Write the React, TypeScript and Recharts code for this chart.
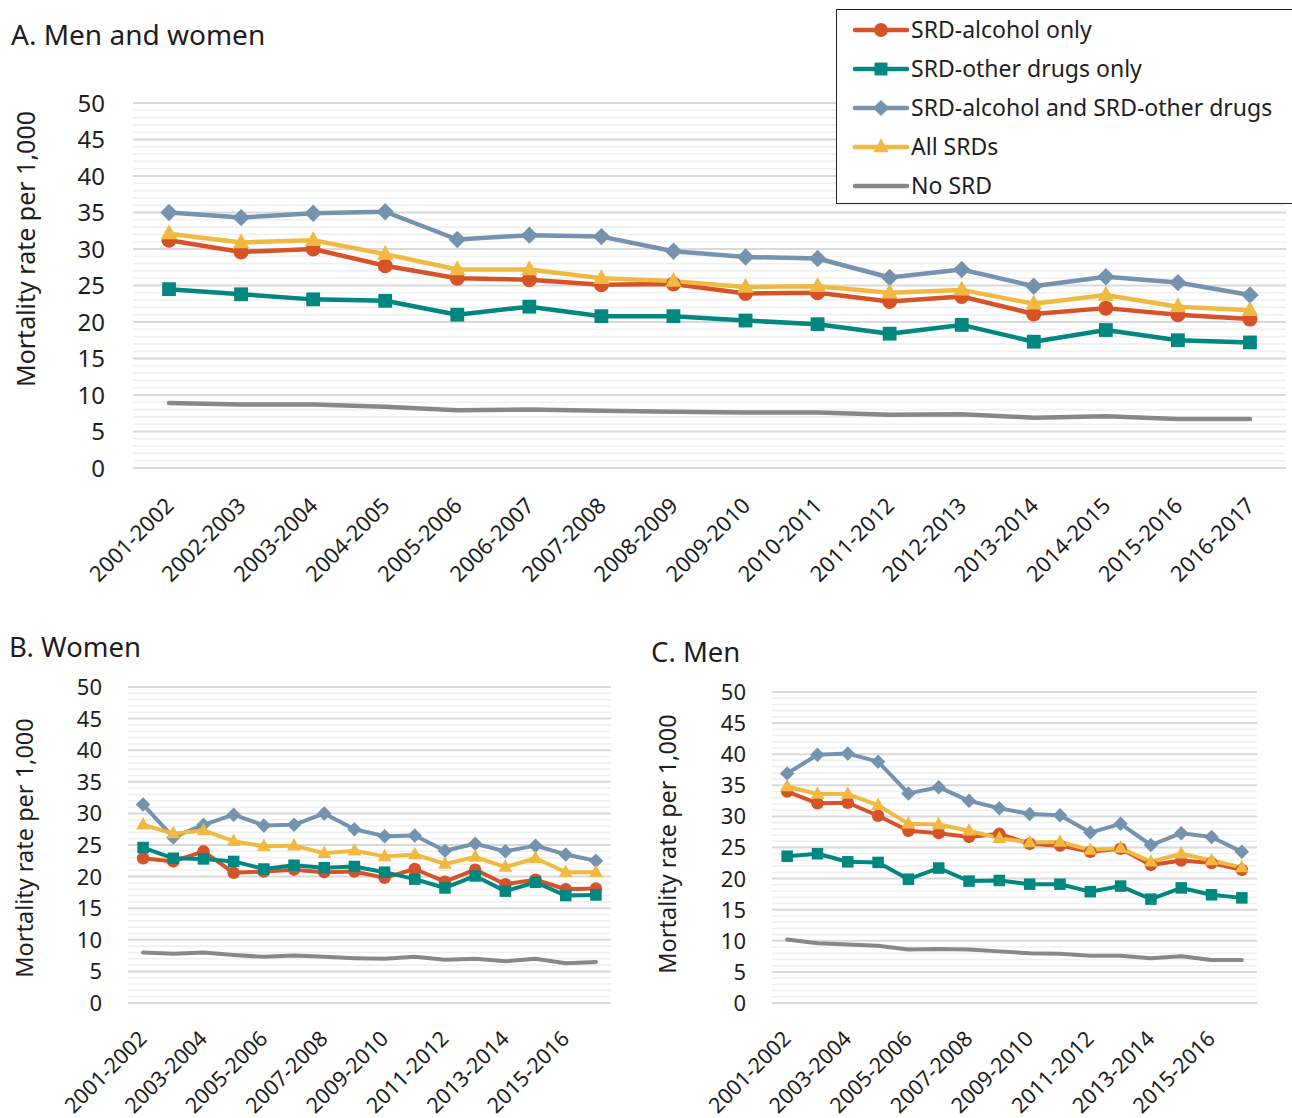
import React from 'react';
import { LineChart, Line, XAxis, YAxis, CartesianGrid, Legend } from 'recharts';

const periods = [
  '2001-2002', '2002-2003', '2003-2004', '2004-2005', '2005-2006', '2006-2007', '2007-2008', '2008-2009',
  '2009-2010', '2010-2011', '2011-2012', '2012-2013', '2013-2014', '2014-2015', '2015-2016', '2016-2017',
];

// every integer gets a grid line, every 5th gets a label
const gridTicks = Array.from({ length: 51 }, (_, i) => i);

// A. Men and women
const allAlcohol = [31.2, 29.6, 30.0, 27.7, 26.0, 25.8, 25.1, 25.2, 23.9, 24.0, 22.8, 23.5, 21.1, 21.9, 21.0, 20.4];
const allOtherDrugs = [24.5, 23.8, 23.1, 22.9, 21.0, 22.1, 20.8, 20.8, 20.2, 19.7, 18.4, 19.6, 17.3, 18.9, 17.5, 17.2];
const allBoth = [35.0, 34.3, 34.9, 35.1, 31.3, 31.9, 31.7, 29.7, 28.9, 28.7, 26.1, 27.2, 24.9, 26.2, 25.4, 23.7];
const allSrds = [32.1, 30.9, 31.2, 29.3, 27.2, 27.2, 26.0, 25.6, 24.8, 24.9, 24.0, 24.4, 22.5, 23.7, 22.1, 21.6];
const allNoSrd = [8.9, 8.7, 8.7, 8.4, 7.9, 8.0, 7.85, 7.7, 7.6, 7.6, 7.3, 7.35, 6.9, 7.1, 6.7, 6.7];

// B. Women
const womenAlcohol = [22.9, 22.4, 24.0, 20.6, 20.8, 21.1, 20.7, 20.8, 19.8, 21.2, 19.2, 21.1, 18.8, 19.5, 18.0, 18.1];
const womenOtherDrugs = [24.6, 22.9, 22.8, 22.4, 21.2, 21.8, 21.4, 21.6, 20.7, 19.6, 18.2, 20.1, 17.7, 19.1, 17.0, 17.1];
const womenBoth = [31.4, 26.2, 28.2, 29.8, 28.1, 28.2, 30.0, 27.5, 26.4, 26.5, 24.1, 25.2, 24.0, 24.9, 23.5, 22.5];
const womenSrds = [28.2, 26.8, 27.3, 25.6, 24.8, 24.9, 23.7, 24.1, 23.2, 23.5, 22.0, 23.1, 21.5, 22.9, 20.7, 20.7];
const womenNoSrd = [8.0, 7.8, 8.0, 7.6, 7.3, 7.5, 7.3, 7.1, 7.0, 7.3, 6.85, 7.0, 6.6, 7.0, 6.3, 6.5];

// C. Men
const menAlcohol = [34.0, 32.1, 32.2, 30.1, 27.7, 27.3, 26.7, 27.2, 25.6, 25.3, 24.3, 24.8, 22.2, 22.9, 22.5, 21.4];
const menOtherDrugs = [23.6, 24.0, 22.7, 22.6, 19.9, 21.7, 19.6, 19.7, 19.1, 19.1, 17.9, 18.8, 16.7, 18.5, 17.4, 16.9];
const menBoth = [36.9, 39.9, 40.1, 38.8, 33.7, 34.7, 32.5, 31.3, 30.4, 30.2, 27.4, 28.8, 25.4, 27.3, 26.7, 24.3];
const menSrds = [34.8, 33.6, 33.6, 31.8, 28.8, 28.7, 27.7, 26.5, 25.8, 25.9, 24.6, 24.9, 22.7, 24.0, 22.9, 21.8];
const menNoSrd = [10.2, 9.6, 9.4, 9.2, 8.6, 8.7, 8.6, 8.3, 8.0, 7.9, 7.6, 7.6, 7.2, 7.5, 6.9, 6.9];

const buildData = (alcohol: number[], other: number[], both: number[], srds: number[], none: number[]) =>
  periods.map((period, i) => ({
    period,
    alcohol: alcohol[i],
    other: other[i],
    both: both[i],
    srds: srds[i],
    none: none[i],
  }));

const dataAll = buildData(allAlcohol, allOtherDrugs, allBoth, allSrds, allNoSrd);
const dataWomen = buildData(womenAlcohol, womenOtherDrugs, womenBoth, womenSrds, womenNoSrd);
const dataMen = buildData(menAlcohol, menOtherDrugs, menBoth, menSrds, menNoSrd);

const FONT = "'Noto Sans', 'Open Sans', sans-serif";
const TEXT = '#1e1e1e';

const SERIES = [
  { key: 'alcohol', name: 'SRD-alcohol only', color: '#D6532A', marker: 'circle' },
  { key: 'other', name: 'SRD-other drugs only', color: '#00877F', marker: 'square' },
  { key: 'both', name: 'SRD-alcohol and SRD-other drugs', color: '#7493AF', marker: 'diamond' },
  { key: 'srds', name: 'All SRDs', color: '#F0B941', marker: 'triangle' },
  { key: 'none', name: 'No SRD', color: '#888888', marker: 'none' },
];

const Marker = ({ type, cx, cy, color, s }: { type: string; cx: number; cy: number; color: string; s: number }) => {
  if (type === 'circle') return <circle cx={cx} cy={cy} r={s * 0.5} fill={color} />;
  if (type === 'square') return <rect x={cx - s * 0.46} y={cy - s * 0.46} width={s * 0.92} height={s * 0.92} fill={color} />;
  if (type === 'diamond') {
    const h = s * 0.58;
    return <polygon points={`${cx},${cy - h} ${cx + h},${cy} ${cx},${cy + h} ${cx - h},${cy}`} fill={color} />;
  }
  if (type === 'triangle') {
    const w = s * 0.55;
    return <polygon points={`${cx},${cy - s * 0.62} ${cx + w},${cy + s * 0.38} ${cx - w},${cy + s * 0.38}`} fill={color} />;
  }
  return null;
};

const makeDot = (type: string, color: string, s: number, key: string) => (props: any) => {
  const { cx, cy, index } = props;
  if (cx == null || cy == null) return <g key={`${key}-${index}`} />;
  return (
    <g key={`${key}-${index}`}>
      <Marker type={type} cx={cx} cy={cy} color={color} s={s} />
    </g>
  );
};

const XTick = ({ x, y, payload, fontSize, dx, dy }: any) => (
  <g transform={`translate(${x + dx},${y + dy})`}>
    <text textAnchor="end" transform="rotate(-45)" fontSize={fontSize} fill={TEXT} fontFamily={FONT}>
      {payload.value}
    </text>
  </g>
);

const YTick = ({ x, y, payload, fontSize }: any) =>
  payload.value % 5 === 0 ? (
    <text x={x} y={y} dy="0.36em" textAnchor="end" fontSize={fontSize} fill={TEXT} fontFamily={FONT}>
      {payload.value}
    </text>
  ) : (
    <g />
  );

// minor lines light, every 5th line darker
const GridLine = (props: any) => {
  const major = props.index % 5 === 0;
  return (
    <line
      key={props.key}
      x1={props.x1}
      y1={props.y1}
      x2={props.x2}
      y2={props.y2}
      stroke={major ? '#d9d9d9' : '#f0f0f0'}
      strokeWidth={major ? 2 : 1.6}
    />
  );
};

const LegendBox = ({ payload }: any) => (
  <div
    style={{
      background: '#fff',
      border: '1.5px solid #222',
      borderRight: 'none',
      width: 456,
      height: 195,
      boxSizing: 'border-box',
      fontFamily: FONT,
    }}
  >
    {SERIES.map((s) => {
      const item = (payload || []).find((p: any) => p.dataKey === s.key);
      const color = item ? item.color : s.color;
      return (
        <div key={s.key} style={{ display: 'flex', alignItems: 'center', height: 39 }}>
          <svg width={58} height={20} style={{ marginLeft: 15, flex: 'none' }}>
            <line x1={3} y1={10} x2={55} y2={10} stroke={color} strokeWidth={4.5} strokeLinecap="round" />
            <Marker type={s.marker} cx={29} cy={10} color={color} s={14} />
          </svg>
          <span style={{ fontSize: 23, color: TEXT, whiteSpace: 'nowrap', marginLeft: 1, lineHeight: 1 }}>
            {item ? item.value : s.name}
          </span>
        </div>
      );
    })}
  </div>
);

type PanelProps = {
  data: any[];
  width: number;
  height: number;
  margin: { top: number; right: number; left: number; bottom: number };
  yWidth: number;
  xHeight: number;
  lineWidth: number;
  markerSize: number;
  yFont: number;
  yGap: number;
  xFont: number;
  xdx: number;
  xdy: number;
  interval: number;
  legend?: boolean;
};

const Panel = (p: PanelProps) => (
  <LineChart width={p.width} height={p.height} data={p.data} margin={p.margin} style={{ fontFamily: FONT }}>
    <CartesianGrid vertical={false} horizontal={GridLine} />
    <XAxis
      dataKey="period"
      scale="band"
      interval={p.interval}
      tickLine={false}
      axisLine={false}
      tickSize={0}
      tickMargin={0}
      height={p.xHeight}
      tick={<XTick fontSize={p.xFont} dx={p.xdx} dy={p.xdy} />}
    />
    <YAxis
      domain={[0, 50]}
      ticks={gridTicks}
      interval={0}
      width={p.yWidth}
      tickLine={false}
      axisLine={false}
      tickSize={0}
      tickMargin={p.yGap}
      tick={<YTick fontSize={p.yFont} />}
    />
    {SERIES.map((s) => (
      <Line
        key={s.key}
        type="linear"
        dataKey={s.key}
        name={s.name}
        stroke={s.color}
        strokeWidth={p.lineWidth}
        strokeLinejoin="round"
        strokeLinecap="round"
        dot={s.marker === 'none' ? false : makeDot(s.marker, s.color, p.markerSize, s.key)}
        activeDot={false}
        isAnimationActive={false}
      />
    ))}
    {p.legend && (
      <Legend
        layout="vertical"
        align="center"
        verticalAlign="middle"
        wrapperStyle={{ top: 9, left: 836, width: 456, height: 195 }}
        content={<LegendBox />}
      />
    )}
  </LineChart>
);

const abs = (left: number, top: number): React.CSSProperties => ({ position: 'absolute', left, top });

const YLabel = ({ x, y, size }: { x: number; y: number; size: number }) => (
  <div
    style={{
      position: 'absolute',
      left: x,
      top: y,
      transform: 'translate(-50%, -50%) rotate(-90deg)',
      whiteSpace: 'nowrap',
      fontSize: size,
      lineHeight: 1,
      color: TEXT,
      fontFamily: FONT,
    }}
  >
    Mortality rate per 1,000
  </div>
);

const Title = ({ x, y, size, children }: { x: number; y: number; size: number; children: React.ReactNode }) => (
  <div style={{ position: 'absolute', left: x, top: y, fontSize: size, lineHeight: 1, color: TEXT, fontFamily: FONT, whiteSpace: 'nowrap' }}>
    {children}
  </div>
);

export default function App() {
  return (
    <div style={{ position: 'absolute', left: 0, top: 0, width: 1292, height: 1118, background: '#fff', overflow: 'hidden' }}>
      <div style={abs(0, 0)}>
        <Panel
          data={dataAll}
          width={1292}
          height={600}
          margin={{ top: 103, right: 6, left: 0, bottom: 2 }}
          yWidth={133}
          xHeight={130}
          lineWidth={4.5}
          markerSize={15}
          yFont={24}
          yGap={28}
          xFont={22}
          xdx={6}
          xdy={39}
          interval={0}
          legend
        />
      </div>
      <div style={abs(0, 630)}>
        <Panel
          data={dataWomen}
          width={640}
          height={488}
          margin={{ top: 57, right: 29, left: 0, bottom: 2 }}
          yWidth={128}
          xHeight={113}
          lineWidth={4}
          markerSize={12.5}
          yFont={22}
          yGap={26}
          xFont={21.5}
          xdx={5}
          xdy={37}
          interval={1}
        />
      </div>
      <div style={abs(640, 630)}>
        <Panel
          data={dataMen}
          width={652}
          height={488}
          margin={{ top: 62, right: 35, left: 0, bottom: 2 }}
          yWidth={132}
          xHeight={113}
          lineWidth={4}
          markerSize={12.5}
          yFont={22}
          yGap={26}
          xFont={21.5}
          xdx={5}
          xdy={37}
          interval={1}
        />
      </div>
      <Title x={11} y={20} size={28}>A. Men and women</Title>
      <Title x={9} y={633} size={27.5}>B. Women</Title>
      <Title x={651} y={638} size={27.5}>C. Men</Title>
      <YLabel x={25} y={249} size={25} />
      <YLabel x={25} y={848} size={23.5} />
      <YLabel x={668} y={844} size={23.5} />
    </div>
  );
}
